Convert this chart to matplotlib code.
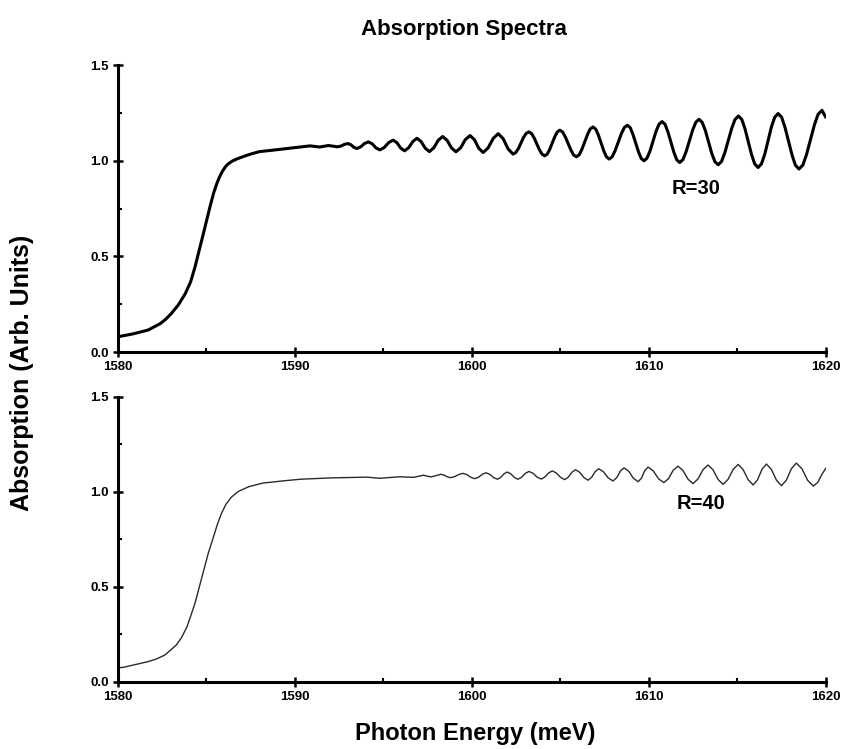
import matplotlib
matplotlib.use("Agg")
import matplotlib.pyplot as plt
from matplotlib.ticker import MultipleLocator

# ---------------- data ----------------
# R=30 curve: points (rise, plateau, oscillation extrema and flanks)
energy_r30 = [1580.0, 1580.8, 1581.2, 1581.7, 1582.4, 1582.7, 1583.0, 1583.4, 1583.8, 1584.1, 1584.35,
              1584.6, 1584.8, 1585.0, 1585.2, 1585.4, 1585.6, 1585.75, 1585.9, 1586.05, 1586.2,
              1586.45, 1586.7, 1587.2, 1587.6, 1588.0,
              1588.7, 1589.9, 1590.85, 1591.4, 1591.9, 1592.4, 1592.6, 1592.8,
              1593.0, 1593.17, 1593.33, 1593.5, 1593.72, 1593.93, 1594.15, 1594.37, 1594.58,
              1594.8, 1595.05, 1595.3, 1595.55, 1595.77, 1595.98, 1596.2, 1596.43, 1596.67,
              1596.9, 1597.13, 1597.37, 1597.6, 1597.85, 1598.1, 1598.35, 1598.6, 1598.85,
              1599.1, 1599.37, 1599.63, 1599.9, 1600.15, 1600.39, 1600.64, 1600.92, 1601.21,
              1601.49, 1601.77, 1602.05, 1602.33, 1602.63, 1602.92, 1603.22, 1603.52, 1603.82,
              1604.12, 1604.4, 1604.69, 1604.97, 1605.28, 1605.6, 1605.91, 1606.22, 1606.54,
              1606.85, 1607.15, 1607.46, 1607.76, 1608.1, 1608.45, 1608.79, 1609.1, 1609.42,
              1609.73, 1610.07, 1610.41, 1610.75, 1611.08, 1611.42, 1611.75, 1612.11, 1612.48,
              1612.84, 1613.2, 1613.56, 1613.92, 1614.3, 1614.69, 1615.07, 1615.44, 1615.81,
              1616.18, 1616.56, 1616.93, 1617.31, 1617.7, 1618.1, 1618.49, 1618.92, 1619.36,
              1619.79, 1620.0]
absorb_r30 = [0.080, 0.094, 0.103, 0.115, 0.149, 0.172, 0.200, 0.245, 0.305, 0.366, 0.444,
              0.535, 0.610, 0.685, 0.760, 0.830, 0.885, 0.918, 0.945, 0.966, 0.982,
              0.998, 1.009, 1.026, 1.038, 1.048,
              1.055, 1.068, 1.078, 1.072, 1.080, 1.073, 1.077, 1.086,
              1.090, 1.0835, 1.0705, 1.064, 1.0728, 1.0903, 1.099, 1.0885, 1.0675,
              1.057, 1.0698, 1.0953, 1.108, 1.094, 1.066, 1.052, 1.0685, 1.1015,
              1.118, 1.1005, 1.0655, 1.048, 1.0678, 1.1073, 1.127, 1.107, 1.067,
              1.047, 1.0683, 1.1108, 1.132, 1.1098, 1.0653, 1.043, 1.0678, 1.1173,
              1.142, 1.1153, 1.0618, 1.035, 1.064, 1.122, 1.151, 1.1198, 1.0573,
              1.026, 1.0595, 1.1265, 1.160, 1.1253, 1.0558, 1.021, 1.060, 1.138,
              1.177, 1.135, 1.051, 1.009, 1.0533, 1.1418, 1.186, 1.1395, 1.0465,
              1.000, 1.0513, 1.1538, 1.205, 1.1515, 1.0445, 0.991, 1.0475, 1.1605,
              1.217, 1.1575, 1.0385, 0.979, 1.0428, 1.1703, 1.234, 1.1668, 1.0323,
              0.965, 1.0355, 1.1765, 1.247, 1.1745, 1.0295, 0.957, 1.0338, 1.1873,
              1.264, 1.228]
# extra points read near the rounded crests / valleys of the R=30 trace
energy_r30_crest = [1602.48, 1603.07, 1603.37, 1603.97, 1604.26, 1604.83, 1605.13, 1605.75,
                    1606.07, 1606.69, 1607.0, 1607.61, 1607.93, 1608.62, 1608.95, 1609.57,
                    1609.9, 1610.58, 1610.92, 1611.58, 1611.93, 1612.66, 1613.02, 1613.74,
                    1614.11, 1614.88, 1615.26, 1615.99, 1616.37, 1617.12, 1617.51, 1618.29,
                    1618.71, 1619.57]
absorb_r30_crest = [1.0428, 1.1432, 1.1426, 1.0344, 1.035, 1.151, 1.1507, 1.0303,
                    1.0315, 1.1665, 1.1657, 1.0203, 1.0209, 1.1741, 1.1735, 1.0125,
                    1.0137, 1.1913, 1.1907, 1.0053, 1.0061, 1.2019, 1.2011, 0.9949,
                    0.9961, 1.2169, 1.216, 0.983, 0.9839, 1.2281, 1.2276, 0.9764,
                    0.9776, 1.2434]

# R=40 curve
energy_r40 = [1580.0, 1580.3, 1581.7, 1582.2, 1582.65, 1583.3, 1583.6, 1583.9, 1584.1, 1584.35,
              1584.7, 1585.1, 1585.4, 1585.6, 1585.85, 1586.1, 1586.4, 1586.8, 1587.4, 1588.2,
              1589.3, 1590.3, 1592.0, 1594.05, 1594.8, 1595.9, 1596.7,
              1597.25, 1597.7,
              1598.25, 1598.43, 1598.62, 1598.8, 1599.03, 1599.27, 1599.5, 1599.72, 1599.95,
              1600.17, 1600.38, 1600.59, 1600.8, 1601.02, 1601.23, 1601.45, 1601.63, 1601.82,
              1602.0, 1602.2, 1602.4, 1602.6, 1602.81, 1603.02, 1603.23, 1603.46, 1603.69,
              1603.92, 1604.13, 1604.34, 1604.55, 1604.78, 1605.02, 1605.25, 1605.45, 1605.66,
              1605.86, 1606.1, 1606.33, 1606.57, 1606.77, 1606.97, 1607.17, 1607.44, 1607.71,
              1607.98, 1608.19, 1608.39, 1608.6, 1608.87, 1609.13, 1609.4, 1609.59, 1609.77,
              1609.96, 1610.26, 1610.55, 1610.85, 1611.12, 1611.38, 1611.65, 1611.93, 1612.22,
              1612.5, 1612.78, 1613.07, 1613.35, 1613.63, 1613.92, 1614.2, 1614.48, 1614.77,
              1615.05, 1615.33, 1615.62, 1615.9, 1616.15, 1616.4, 1616.65, 1616.93, 1617.22,
              1617.5, 1617.78, 1618.06, 1618.34, 1618.66, 1618.98, 1619.3, 1619.55, 1619.8,
              1620.0]
absorb_r40 = [0.075, 0.077, 0.107, 0.122, 0.142, 0.195, 0.235, 0.291, 0.345, 0.414,
              0.537, 0.677, 0.765, 0.825, 0.888, 0.935, 0.972, 1.003, 1.028, 1.047,
              1.058, 1.067, 1.074, 1.078, 1.072, 1.080, 1.077,
              1.088, 1.079,
              1.093, 1.0885, 1.0795, 1.075, 1.0808, 1.0923, 1.098, 1.091, 1.077,
              1.070, 1.0778, 1.0933, 1.101, 1.0925, 1.0755, 1.067, 1.0765, 1.0955,
              1.105, 1.0955, 1.0765, 1.067, 1.0773, 1.0978, 1.108, 1.098, 1.078,
              1.068, 1.0788, 1.1003, 1.111, 1.0995, 1.0765, 1.065, 1.078, 1.104,
              1.117, 1.1033, 1.0758, 1.062, 1.077, 1.107, 1.122, 1.106, 1.074,
              1.058, 1.0753, 1.1098, 1.127, 1.1088, 1.0723, 1.054, 1.0733, 1.1118,
              1.131, 1.1105, 1.0695, 1.049, 1.0708, 1.1143, 1.136, 1.113, 1.067,
              1.044, 1.0685, 1.1175, 1.142, 1.1165, 1.0655, 1.040, 1.0663, 1.1188,
              1.145, 1.118, 1.064, 1.037, 1.0645, 1.1195, 1.147, 1.1185, 1.0615,
              1.033, 1.0628, 1.1223, 1.152, 1.1218, 1.0613, 1.031, 1.050, 1.095,
              1.124]

x_ticks = [1580, 1590, 1600, 1610, 1620]
y_ticks = [0.0, 0.5, 1.0, 1.5]
labels = ["R=30", "R=40"]
title = "Absorption Spectra"
xlabel = "Photon Energy (meV)"
ylabel = "Absorption (Arb. Units)"

# merge the R=30 readings in energy order
r30 = sorted(zip(energy_r30 + energy_r30_crest, absorb_r30 + absorb_r30_crest))
r30_x = [p[0] for p in r30]
r30_y = [p[1] for p in r30]

# ---------------- figure ----------------
fam = ["Liberation Sans", "DejaVu Sans"]

fig = plt.figure(figsize=(8.46, 7.49), dpi=100)
ax1 = fig.add_axes([0.1395, 0.530, 0.8365, 0.383])
ax2 = fig.add_axes([0.1395, 0.0895, 0.8365, 0.3805])

ax1.plot(r30_x, r30_y, color="black", lw=2.2, solid_joinstyle="round", solid_capstyle="round")
ax2.plot(energy_r40, absorb_r40, color="#2a2a2a", lw=1.0, solid_joinstyle="round")

for ax in (ax1, ax2):
    ax.set_xlim(1580, 1620)
    ax.set_ylim(0, 1.5)
    ax.set_xticks(x_ticks)
    ax.set_yticks(y_ticks)
    ax.set_xticklabels([str(t) for t in x_ticks], family=fam, fontweight="bold", fontsize=9.5)
    ax.set_yticklabels([f"{t:.1f}" for t in y_ticks], family=fam, fontweight="bold", fontsize=9.5)
    ax.xaxis.set_minor_locator(MultipleLocator(5))
    ax.yaxis.set_minor_locator(MultipleLocator(0.25))
    for s in ("top", "right"):
        ax.spines[s].set_visible(False)
    for s in ("left", "bottom"):
        ax.spines[s].set_linewidth(2.2)
    ax.tick_params(axis="both", which="major", direction="inout", length=7, width=1.8, pad=3)
    ax.tick_params(axis="both", which="minor", direction="in", length=3, width=1.5)

ax1.text(1611.3, 0.855, labels[0], family=fam, fontweight="bold", fontsize=14.5, va="center", ha="left")
ax2.text(1611.6, 0.94, labels[1], family=fam, fontweight="bold", fontsize=14.5, va="center", ha="left")

fig.text(0.548, 0.961, title, family=fam, fontweight="bold", fontsize=16, ha="center", va="center")
fig.text(0.562, 0.021, xlabel, family=fam, fontweight="bold", fontsize=17, ha="center", va="center")
fig.text(0.026, 0.502, ylabel, family=fam, fontweight="bold", fontsize=18, ha="center", va="center",
         rotation=90)

fig.savefig("out.png", dpi=100)
